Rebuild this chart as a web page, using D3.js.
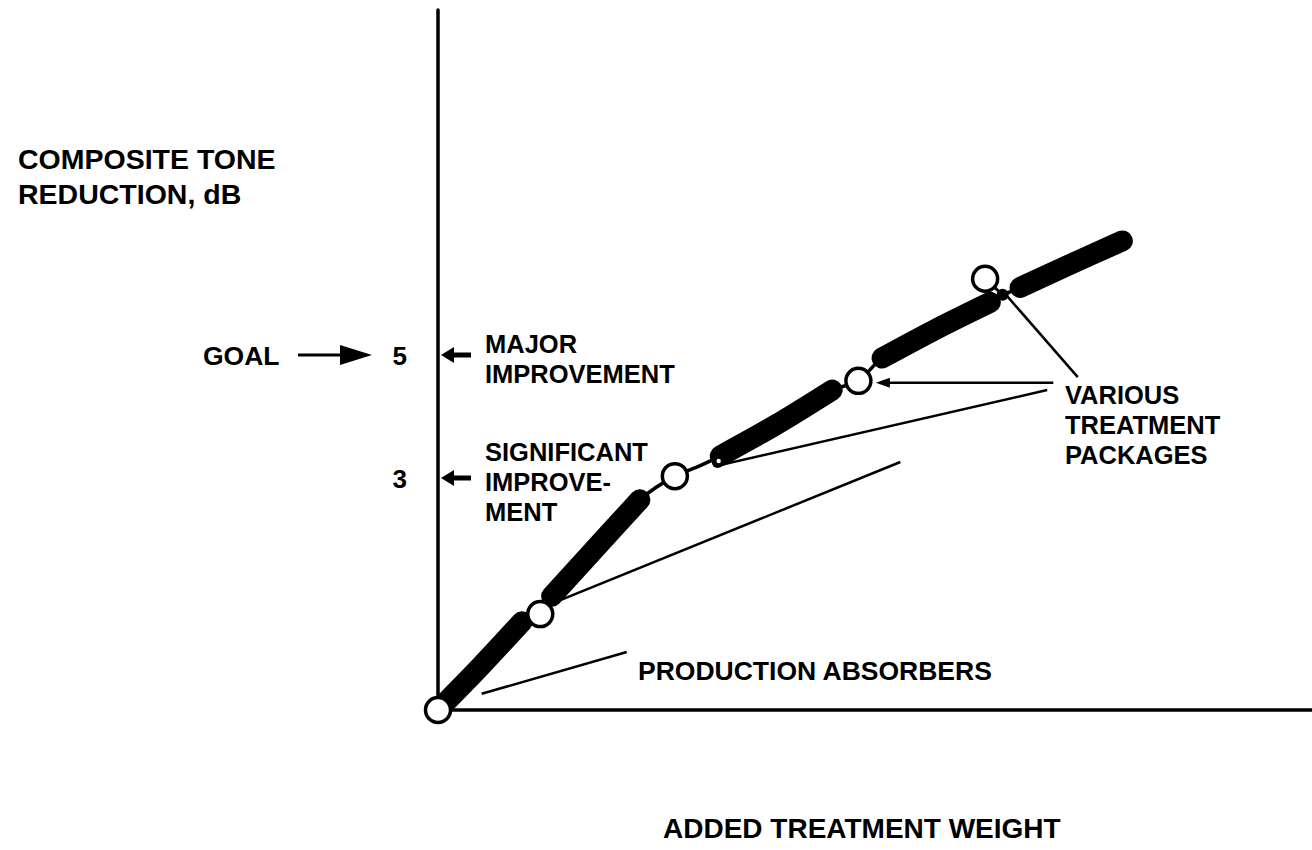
<!DOCTYPE html>
<html>
<head>
<meta charset="utf-8">
<script src="https://cdn.jsdelivr.net/npm/d3@7"></script>
<style>
  html, body { margin: 0; padding: 0; background: #fff; }
  svg { display: block; }
  text { font-family: "Liberation Sans", Arial, Helvetica, sans-serif; font-weight: bold; fill: #000; }
</style>
</head>
<body>
<svg id="chart" width="1312" height="850"></svg>
<script>
// ---------------- DATA ----------------
const yTitle = ["COMPOSITE TONE", "REDUCTION, dB"];
const xTitle = "ADDED TREATMENT WEIGHT";
const yTickValues = [3, 5];
const goalLabel = "GOAL";
const majorLabel = ["MAJOR", "IMPROVEMENT"];
const significantLabel = ["SIGNIFICANT", "IMPROVE-", "MENT"];
const productionLabel = "PRODUCTION ABSORBERS";
const variousLabel = ["VARIOUS", "TREATMENT", "PACKAGES"];

// Trade-off curve: [added weight (arbitrary units), tone reduction dB]
const curveWeight = [0, 0.50, 0.96, 1.17, 1.30, 1.80, 2.31, 2.71, 3.00, 3.23, 3.86, 4.51, 4.81, 5.08, 5.69, 6.32, 6.49, 6.66, 7.23, 7.83];
const curveDb     = [0, 0.58, 1.14, 1.24, 1.47, 2.09, 2.72, 3.03, 3.20, 3.36, 3.86, 4.43, 4.58, 4.95, 5.41, 5.85, 5.98, 6.09, 6.46, 6.84];
// Thick bands: [start index, end index] into the curve arrays
const bandStart = [0, 4, 9, 13, 17];
const bandEnd   = [2, 6, 11, 15, 19];

// Treatment package points (open circles)
const pkgWeight = [0, 1.17, 2.71, 4.81, 6.26];
const pkgDb     = [0, 1.24, 3.03, 4.58, 6.23];

// Joints on the curve
const jointWeight = [3.20, 6.46];
const jointDb     = [3.26, 5.97];

// Leader lines: from (label end) to (target), in data units
const leaderFromW  = [2.16, 5.29, 6.97, 7.32];
const leaderFromDb = [0.75, 3.26, 4.43, 4.64];
const leaderToW    = [0.50, 1.40, 3.23, 6.45];
const leaderToDb   = [0.21, 1.42, 3.21, 6.05];
// Arrow leader (with head) pointing to a package circle
const arrowFromW  = [7.04];
const arrowFromDb = [4.55];
const arrowToW    = [5.01];
const arrowToDb   = [4.55];

// ---------------- CHART ----------------
const svg = d3.select("#chart");
svg.append("rect").attr("width", 1312).attr("height", 850).attr("fill", "#fff");

const x = d3.scaleLinear().domain([0, 10]).range([438, 1312]);
const y = d3.scaleLinear().domain([0, 3, 5, 10.5]).range([710, 478, 355, 14]);

// Axes
const yAxis = d3.axisLeft(y).tickValues(yTickValues).tickSize(0).tickPadding(31).tickFormat(d3.format("d"));
const gy = svg.append("g").attr("transform", `translate(${x(0)},0)`).call(yAxis);
gy.select(".domain").remove();
gy.selectAll("text").style("font-size", "26px").attr("font-family", null).attr("dy", "0.36em");

svg.append("line").attr("x1", x(0)).attr("x2", x(0)).attr("y1", y(0)).attr("y2", y(10.5) - 4)
  .attr("stroke", "#000").attr("stroke-width", 3.5).attr("stroke-linecap", "round");
svg.append("line").attr("x1", x(0)).attr("x2", x(10)).attr("y1", y(0)).attr("y2", y(0))
  .attr("stroke", "#000").attr("stroke-width", 3.5);

function arrowHead(g, tipX, tipY, dir, len, half) {
  g.append("path")
    .attr("d", `M${tipX},${tipY} L${tipX + dir * len},${tipY - half} L${tipX + dir * len},${tipY + half} Z`)
    .attr("fill", "#000");
}
// Tick arrows pointing at the axis
yTickValues.forEach(v => {
  const yy = y(v);
  svg.append("line").attr("x1", x(0) + 10).attr("x2", x(0) + 33).attr("y1", yy).attr("y2", yy)
    .attr("stroke", "#000").attr("stroke-width", 5);
  arrowHead(svg, x(0) + 3, yy, 1, 13, 8);
});

// GOAL arrow
svg.append("text").attr("x", 203).attr("y", y(5) + 10).style("font-size", "26.5px").text(goalLabel);
svg.append("line").attr("x1", 298).attr("x2", 345).attr("y1", y(5)).attr("y2", y(5))
  .attr("stroke", "#000").attr("stroke-width", 3);
arrowHead(svg, 372, y(5), -1, 32, 10);

// Axis titles
const yt = svg.append("text").attr("x", 18).attr("y", 169).style("font-size", "28.5px");
yt.append("tspan").attr("x", 18).text(yTitle[0]);
yt.append("tspan").attr("x", 18).attr("dy", 35).text(yTitle[1]);
svg.append("text").attr("x", 663).attr("y", 838).style("font-size", "28px").text(xTitle);

// Multi-line labels
function multiline(lines, x0, y0, lh) {
  const t = svg.append("text").attr("x", x0).attr("y", y0).style("font-size", "25.5px");
  lines.forEach((l, i) => t.append("tspan").attr("x", x0).attr("dy", i === 0 ? 0 : lh).text(l));
}
multiline(majorLabel, 485, 353, 30);
multiline(significantLabel, 485, 461, 30);
multiline(variousLabel, 1065, 404, 30);
svg.append("text").attr("x", 638).attr("y", 680).style("font-size", "26.5px").text(productionLabel);

// Curve
const pts = curveWeight.map((w, i) => [x(w), y(curveDb[i])]);
const line = d3.line().curve(d3.curveCatmullRom.alpha(0.5));
svg.append("path").attr("d", line(pts)).attr("fill", "none").attr("stroke", "#000").attr("stroke-width", 3.5);
bandStart.forEach((s, i) => {
  svg.append("path").attr("d", line(pts.slice(s, bandEnd[i] + 1)))
    .attr("fill", "none").attr("stroke", "#000").attr("stroke-width", 21).attr("stroke-linecap", "round");
});
jointWeight.forEach((w, i) => {
  svg.append("circle").attr("cx", x(w)).attr("cy", y(jointDb[i])).attr("r", 6).attr("fill", "#000");
});
svg.append("circle").attr("cx", x(jointWeight[0]) + 1).attr("cy", y(jointDb[0]) - 1).attr("r", 2.2).attr("fill", "#fff");

// Leaders
leaderFromW.forEach((w, i) => {
  svg.append("line").attr("x1", x(w)).attr("y1", y(leaderFromDb[i]))
    .attr("x2", x(leaderToW[i])).attr("y2", y(leaderToDb[i]))
    .attr("stroke", "#000").attr("stroke-width", 2.5);
});
// Connector from the upper package circle to the curve
svg.append("line").attr("x1", x(pkgWeight[4])).attr("y1", y(pkgDb[4]))
  .attr("x2", x(jointWeight[1])).attr("y2", y(jointDb[1]))
  .attr("stroke", "#000").attr("stroke-width", 3);
arrowFromW.forEach((w, i) => {
  const x1 = x(w), y1 = y(arrowFromDb[i]), x2 = x(arrowToW[i]), y2 = y(arrowToDb[i]);
  svg.append("line").attr("x1", x1).attr("y1", y1).attr("x2", x2 + 10).attr("y2", y2)
    .attr("stroke", "#000").attr("stroke-width", 2.5);
  arrowHead(svg, x2, y2, 1, 14, 5);
});

// Package circles
pkgWeight.forEach((w, i) => {
  svg.append("circle").attr("cx", x(w)).attr("cy", y(pkgDb[i])).attr("r", 12.5)
    .attr("fill", "#fff").attr("stroke", "#000").attr("stroke-width", 3.5);
});
</script>
</body>
</html>
